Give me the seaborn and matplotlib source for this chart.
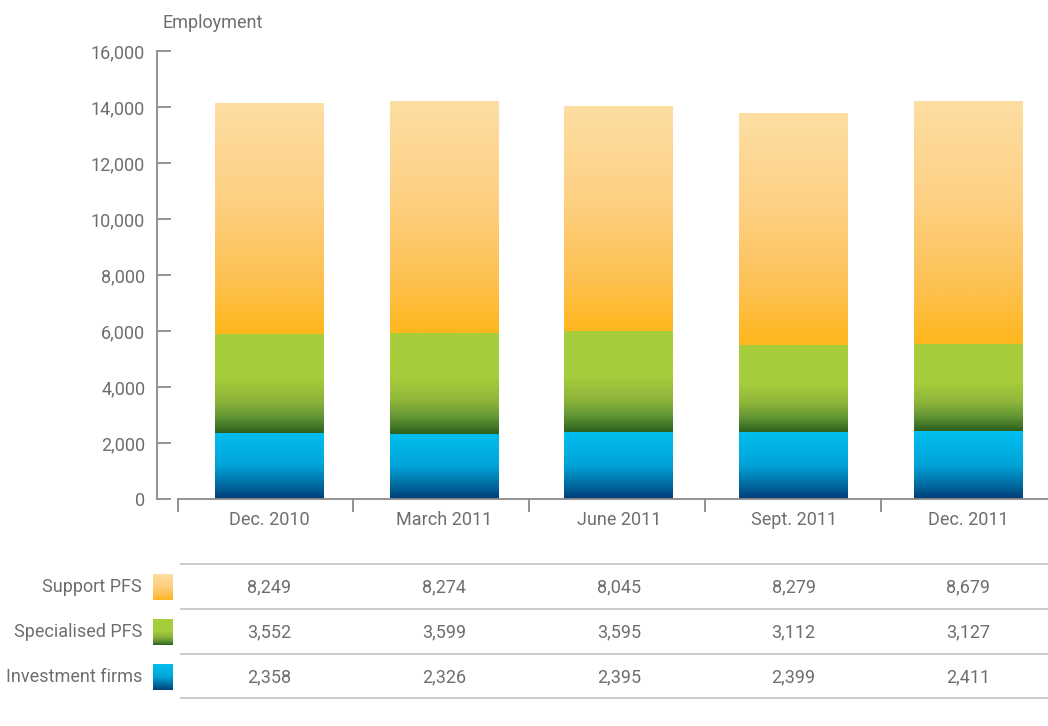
import numpy as np
import pandas as pd
import matplotlib
matplotlib.use("Agg")
import matplotlib.pyplot as plt
import seaborn as sns
from matplotlib.colors import LinearSegmentedColormap
from matplotlib.patches import Rectangle

periods = ["Dec. 2010", "March 2011", "June 2011", "Sept. 2011", "Dec. 2011"]
investment_firms = [2358, 2326, 2395, 2399, 2411]
specialised_pfs = [3552, 3599, 3595, 3112, 3127]
support_pfs = [8249, 8274, 8045, 8279, 8679]
series_names = ["Support PFS", "Specialised PFS", "Investment firms"]
y_ticks = [0, 2000, 4000, 6000, 8000, 10000, 12000, 14000, 16000]

sns.set_theme(style="white")
plt.rcParams["font.family"] = ["Roboto", "DejaVu Sans"]

TXT = "#6d6e71"
AX = "#8a8a8a"
GRID = "#c8c8c8"
FS = 13

# gradients: list of (position-from-bottom, color)
grads = {
    "Support PFS": [(0.0, "#feb71c"), (0.25, "#fec255"), (0.6, "#fdd185"), (1.0, "#fedea2")],
    "Specialised PFS": [(0.0, "#2b601d"), (0.15, "#5e9233"), (0.32, "#8db43a"), (0.55, "#a6cd3b"), (1.0, "#a6cd3b")],
    "Investment firms": [(0.0, "#003c75"), (0.2, "#00699f"), (0.5, "#00a3d8"), (1.0, "#00bff0")],
}
cmaps = {k: LinearSegmentedColormap.from_list(k, v) for k, v in grads.items()}

W, H = 1048, 726
fig = plt.figure(figsize=(W / 100, H / 100), dpi=100)

x0_px, unit = 269.5, 174.7
xl = ((178 - x0_px) / unit, (W - x0_px) / unit)

ax = fig.add_axes([178 / W, (H - 499) / H, (W - 178) / W, 448 / H])

df = pd.DataFrame({
    "period": periods,
    "Investment firms": investment_firms,
    "Specialised PFS": specialised_pfs,
    "Support PFS": support_pfs,
})
bottoms = {
    "Investment firms": np.zeros(len(periods)),
    "Specialised PFS": np.array(investment_firms, dtype=float),
    "Support PFS": np.array(investment_firms, dtype=float) + np.array(specialised_pfs, dtype=float),
}

bar_w = 109 / unit
grad_img = np.linspace(0, 1, 256).reshape(-1, 1)
for name in ["Investment firms", "Specialised PFS", "Support PFS"]:
    n_before = len(ax.patches)
    sns.barplot(data=df, x="period", y=name, bottom=bottoms[name], width=bar_w,
                color="white", edgecolor="none", linewidth=0, ax=ax, zorder=2)
    for p in ax.patches[n_before:]:
        px, py, pw, ph = p.get_x(), p.get_y(), p.get_width(), p.get_height()
        p.set_facecolor("none")
        im = ax.imshow(grad_img, cmap=cmaps[name], origin="lower", aspect="auto",
                       extent=[px, px + pw, py, py + ph], zorder=2, interpolation="bilinear")
        im.set_clip_path(p)

ax.set_xlim(*xl)
ax.set_ylim(0, 16000)
ax.set_xlabel("")
ax.set_ylabel("")

for s in ["top", "right"]:
    ax.spines[s].set_visible(False)
ax.spines["left"].set_position(("outward", 21 * 0.72))
ax.spines["left"].set_bounds(0, 16000)
for s in ["left", "bottom"]:
    ax.spines[s].set_color(AX)
    ax.spines[s].set_linewidth(1.3)

ax.set_yticks(y_ticks)
ax.set_yticklabels([f"{v:,}" for v in y_ticks])
ax.tick_params(axis="y", direction="in", length=14 * 0.72, width=1.3, color=AX,
               labelsize=FS, labelcolor=TXT, pad=8.5, left=True)

bounds = [(px_ - x0_px) / unit for px_ in [178, 353, 529, 705, 881]]
ax.set_xticks(bounds)
ax.set_xticklabels([""] * len(bounds))
ax.set_xticks(range(len(periods)), minor=True)
ax.set_xticklabels(periods, minor=True)
ax.tick_params(axis="x", which="major", direction="out", length=13 * 0.72, width=1.3,
               color=AX, bottom=True)
ax.tick_params(axis="x", which="minor", length=0, labelsize=FS, labelcolor=TXT,
               pad=8.5, bottom=True)

fig.text(163 / W, 1 - 23 / H, "Employment", ha="left", va="center",
         fontsize=FS, color=TXT)

# table
tax = fig.add_axes([178 / W, (H - 700) / H, (W - 178) / W, 140 / H])
tax.set_xlim(*xl)
tax.set_ylim(700, 560)
tax.axis("off")
for yl in [564, 609, 654, 698]:
    tax.plot([(180 - x0_px) / unit, xl[1]], [yl, yl], color=GRID, lw=1.3,
             solid_capstyle="butt", clip_on=False)

rows = [("Support PFS", support_pfs, 587),
        ("Specialised PFS", specialised_pfs, 632),
        ("Investment firms", investment_firms, 677)]
lab_x = (142 - x0_px) / unit
sw_x0 = (153 - x0_px) / unit
sw_x1 = (173 - x0_px) / unit
for name, vals, yc in rows:
    tax.text(lab_x, yc, name, ha="right", va="center", fontsize=FS, color=TXT, clip_on=False)
    im = tax.imshow(grad_img, cmap=cmaps[name], origin="lower", aspect="auto",
                    extent=[sw_x0, sw_x1, yc + 13, yc - 13], interpolation="bilinear",
                    clip_on=False)
    for i, v in enumerate(vals):
        tax.text(i, yc, f"{v:,}", ha="center", va="center", fontsize=FS, color=TXT)
tax.set_xlim(*xl)
tax.set_ylim(700, 560)

fig.savefig("out.png", dpi=100, facecolor="white")
